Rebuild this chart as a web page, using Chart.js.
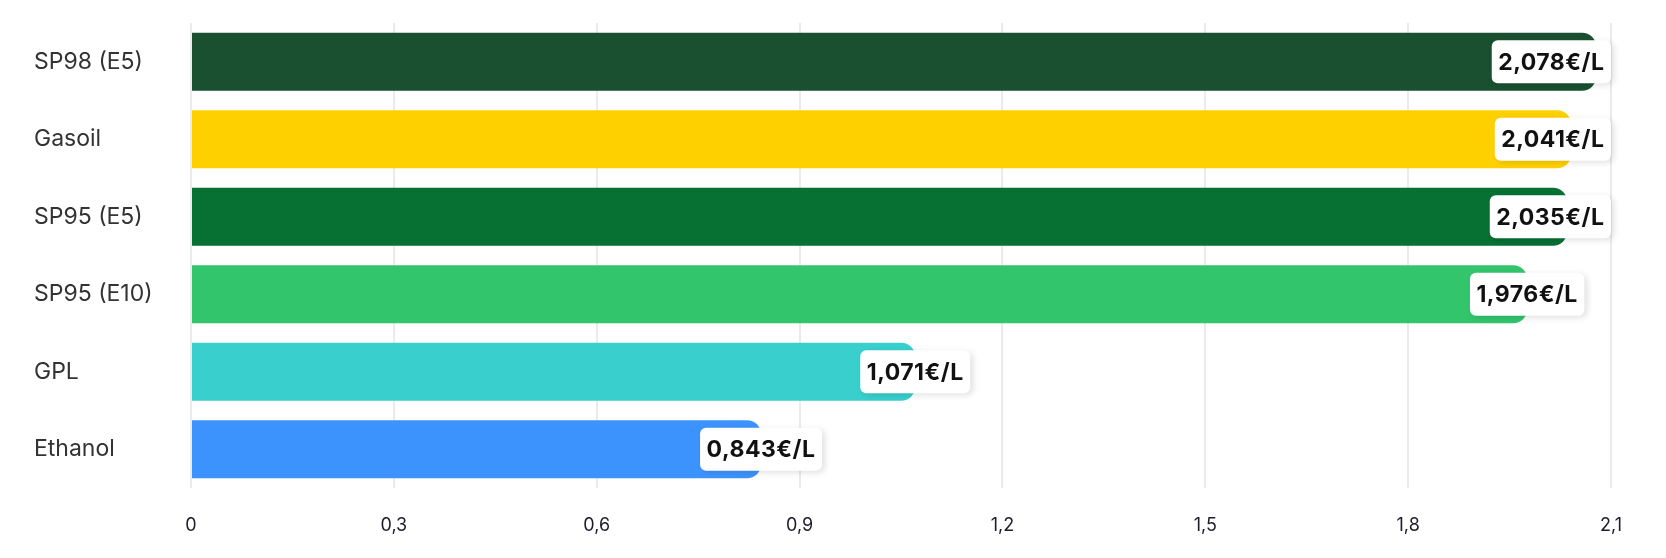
<!DOCTYPE html>
<html>
<head>
<meta charset="utf-8">
<script src="https://cdn.jsdelivr.net/npm/chart.js@4"></script>
<style>
  html, body { margin: 0; padding: 0; background: #fff; }
  #wrap { width: 1666px; height: 558px; }
</style>
</head>
<body>
<div id="wrap"><canvas id="myChart" width="1666" height="558"></canvas></div>
<script>
const fuels = ["SP98 (E5)", "Gasoil", "SP95 (E5)", "SP95 (E10)", "GPL", "Ethanol"];
const prices = [2.078, 2.041, 2.035, 1.976, 1.071, 0.843];
const barColors = ["#1a5030", "#ffd000", "#077033", "#32c56c", "#38cfcd", "#3d93fd"];

const fmt = (v, digits) => Number(v).toFixed(digits).replace(".", ",");

// white value badges at the end of each bar
const valueBadges = {
  id: "valueBadges",
  afterDatasetsDraw(chart) {
    const ctx = chart.ctx;
    const area = chart.chartArea;
    const meta = chart.getDatasetMeta(0);
    ctx.save();
    ctx.font = "bold 23px Inter";
    ctx.letterSpacing = "0.5px";
    meta.data.forEach((bar, i) => {
      const text = fmt(prices[i], 3) + "€/L";
      const w = ctx.measureText(text).width + 13;
      const h = 43;
      let x = bar.x - w / 2;
      if (x + w > area.right) x = area.right - w;
      const y = bar.y - h / 2;
      ctx.shadowColor = "rgba(0,0,0,0.12)";
      ctx.shadowBlur = 6;
      ctx.shadowOffsetX = 3;
      ctx.shadowOffsetY = 2;
      ctx.fillStyle = "#fff";
      ctx.beginPath();
      ctx.roundRect(x, y, w, h, 6);
      ctx.fill();
      ctx.shadowColor = "transparent";
      ctx.fillStyle = "#111";
      ctx.textAlign = "center";
      ctx.textBaseline = "middle";
      ctx.fillText(text, x + w / 2, bar.y + 1);
    });
    ctx.restore();
  },
};

const context = document.getElementById("myChart").getContext("2d");
const myChart = new Chart(context, {
  type: "bar",
  data: {
    labels: fuels,
    datasets: [
      {
        data: prices,
        backgroundColor: barColors,
        borderRadius: { topRight: 14, bottomRight: 14 },
        borderSkipped: false,
        categoryPercentage: 0.75,
        barPercentage: 1,
      },
    ],
  },
  options: {
    indexAxis: "y",
    responsive: false,
    animation: false,
    layout: { padding: { left: 34, right: 55, top: 23, bottom: 0 } },
    plugins: {
      legend: { display: false },
      tooltip: { enabled: false },
    },
    scales: {
      x: {
        min: 0,
        max: 2.1,
        grid: { color: "#ebebeb", lineWidth: 2, drawTicks: false },
        border: { display: false },
        afterFit: (scale) => { scale.height = 70; },
        ticks: {
          stepSize: 0.3,
          padding: 27,
          color: "#1d1d2b",
          font: { family: "Inter", size: 18 },
          callback: (v) => (v === 0 ? "0" : fmt(v, 1)),
        },
      },
      y: {
        grid: { display: false },
        border: { display: false },
        afterFit: (scale) => { scale.width = 157; },
        ticks: {
          crossAlign: "far",
          color: "#333",
          font: { family: "Inter", size: 23 },
        },
      },
    },
  },
  plugins: [valueBadges],
});
</script>
</body>
</html>
